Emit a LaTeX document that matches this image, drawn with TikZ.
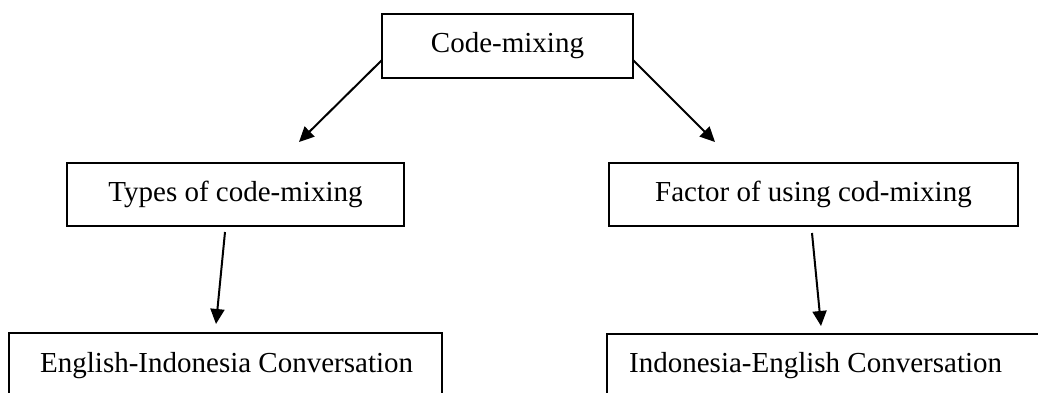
\documentclass[tikz,border=0pt]{standalone}
\usepackage{fontspec}
\setmainfont{Liberation Serif}
\usetikzlibrary{arrows.meta,calc}
\begin{document}
\begin{tikzpicture}[x=1pt,y=-1pt,
  box/.style={draw=black, line width=2pt, inner sep=0pt, outer sep=0pt,
    font=\fontsize{29}{34}\selectfont},
  lbl/.style={inner sep=0pt, anchor=base west, font=\fontsize{29}{34}\selectfont},
  arr/.style={line width=2pt, -{Triangle[length=15pt,width=14pt]}}]
\useasboundingbox (0,0) rectangle (1038,393);
\clip (0,0) rectangle (1038,393);
% boxes
\node[box, minimum width=251pt, minimum height=64pt] (top) at (507.5,46) {Code-mixing};
\node[box, minimum width=337pt, minimum height=63pt] (types) at (235.5,194.5) {Types of code-mixing};
\node[box, minimum width=409pt, minimum height=63pt] (factor) at (813.5,194.5) {Factor of using cod-mixing};
\node[box, minimum width=433pt, minimum height=100pt, anchor=north west] (eng) at (9,333) {};
\node[box, minimum width=460pt, minimum height=100pt, anchor=north west] (ind) at (607,334) {};
\node[lbl] (engt) at (40,372) {English-Indonesia Conversation};
\node[lbl] (indt) at (629,372) {Indonesia-English Conversation};
% arrow end points
\coordinate (a1) at (299,142);
\coordinate (a2) at (715,142);
\coordinate (s3) at (225,232);
\coordinate (a3) at (216,324);
\coordinate (s4) at (812,233);
\coordinate (a4) at (821,326);
% connectors
\draw[arr] ($(top.south west)+(0,-18)$) -- (a1);
\draw[arr] ($(top.south east)+(0,-18)$) -- (a2);
\draw[arr] (s3) -- (a3);
\draw[arr] (s4) -- (a4);
\end{tikzpicture}
\end{document}
